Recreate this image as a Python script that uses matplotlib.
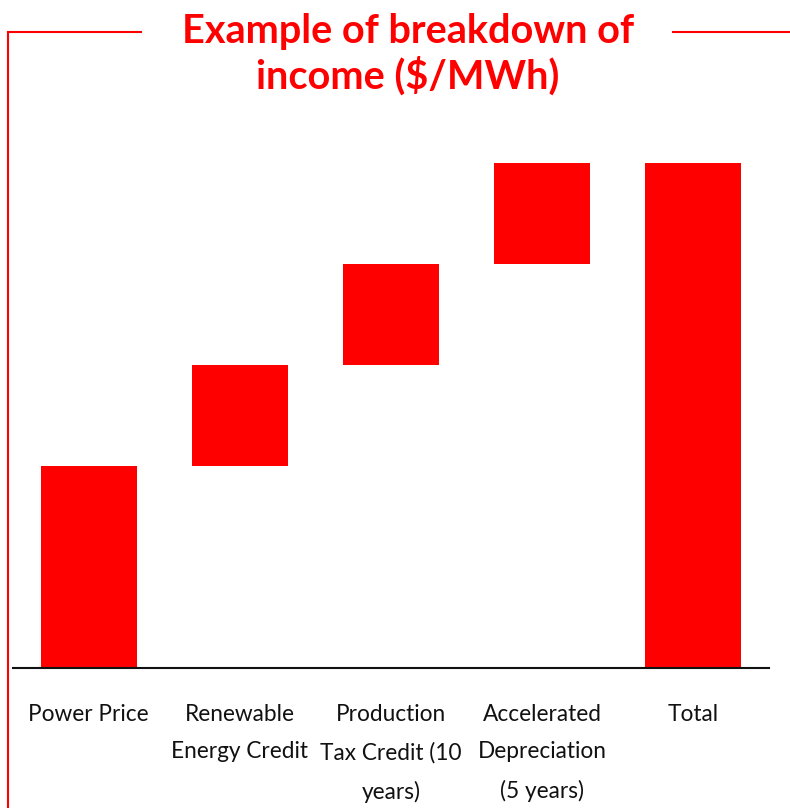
import numpy as np
import matplotlib.pyplot as plt
from matplotlib.lines import Line2D

# Income components ($/MWh) and their labels
categories = ["Power Price", "Renewable\nEnergy Credit", "Production\nTax Credit (10\nyears)",
              "Accelerated\nDepreciation\n(5 years)", "Total"]
components = [40, 20, 20, 20]

red = "#ff0000"
plt.rcParams['font.family'] = ['Lato', 'DejaVu Sans']

# waterfall: each component starts where the previous one ended
bottoms = np.concatenate([[0], np.cumsum(components)[:-1]])
total = sum(components)
heights = list(components) + [total]
bases = list(bottoms) + [0]

fig = plt.figure(figsize=(7.9, 8.08), dpi=100)
ax = fig.add_axes([13/790, 140/808, 756/790, 505/808])
x = np.arange(len(categories))
ax.bar(x, heights, bottom=bases, width=0.635, color=red)

ax.set_xlim(-0.5, len(categories) - 0.5)
ax.set_ylim(0, total)
ax.set_yticks([])
ax.set_xticks(x)
ax.set_xticklabels(categories, fontsize=16.3, linespacing=1.95, color="#111111")
ax.tick_params(axis='x', length=0, pad=26)
for side in ["top", "right", "left"]:
    ax.spines[side].set_visible(False)
ax.spines["bottom"].set_linewidth(1.5)
ax.spines["bottom"].set_color("#111111")

# title with the red frame around the chart
fig.text(408/790, 1 - 13/808, "Example of breakdown of\nincome ($/MWh)", ha="center", va="top",
         fontsize=28.5, fontweight="bold", color=red, linespacing=1.2)
fig.add_artist(Line2D([8/790, 8/790], [0, 1 - 32/808], color=red, lw=1.5))
fig.add_artist(Line2D([8/790, 141/790], [1 - 32/808, 1 - 32/808], color=red, lw=1.5))
fig.add_artist(Line2D([673/790, 1], [1 - 32/808, 1 - 32/808], color=red, lw=1.5))

fig.savefig("out.png", dpi=100)
